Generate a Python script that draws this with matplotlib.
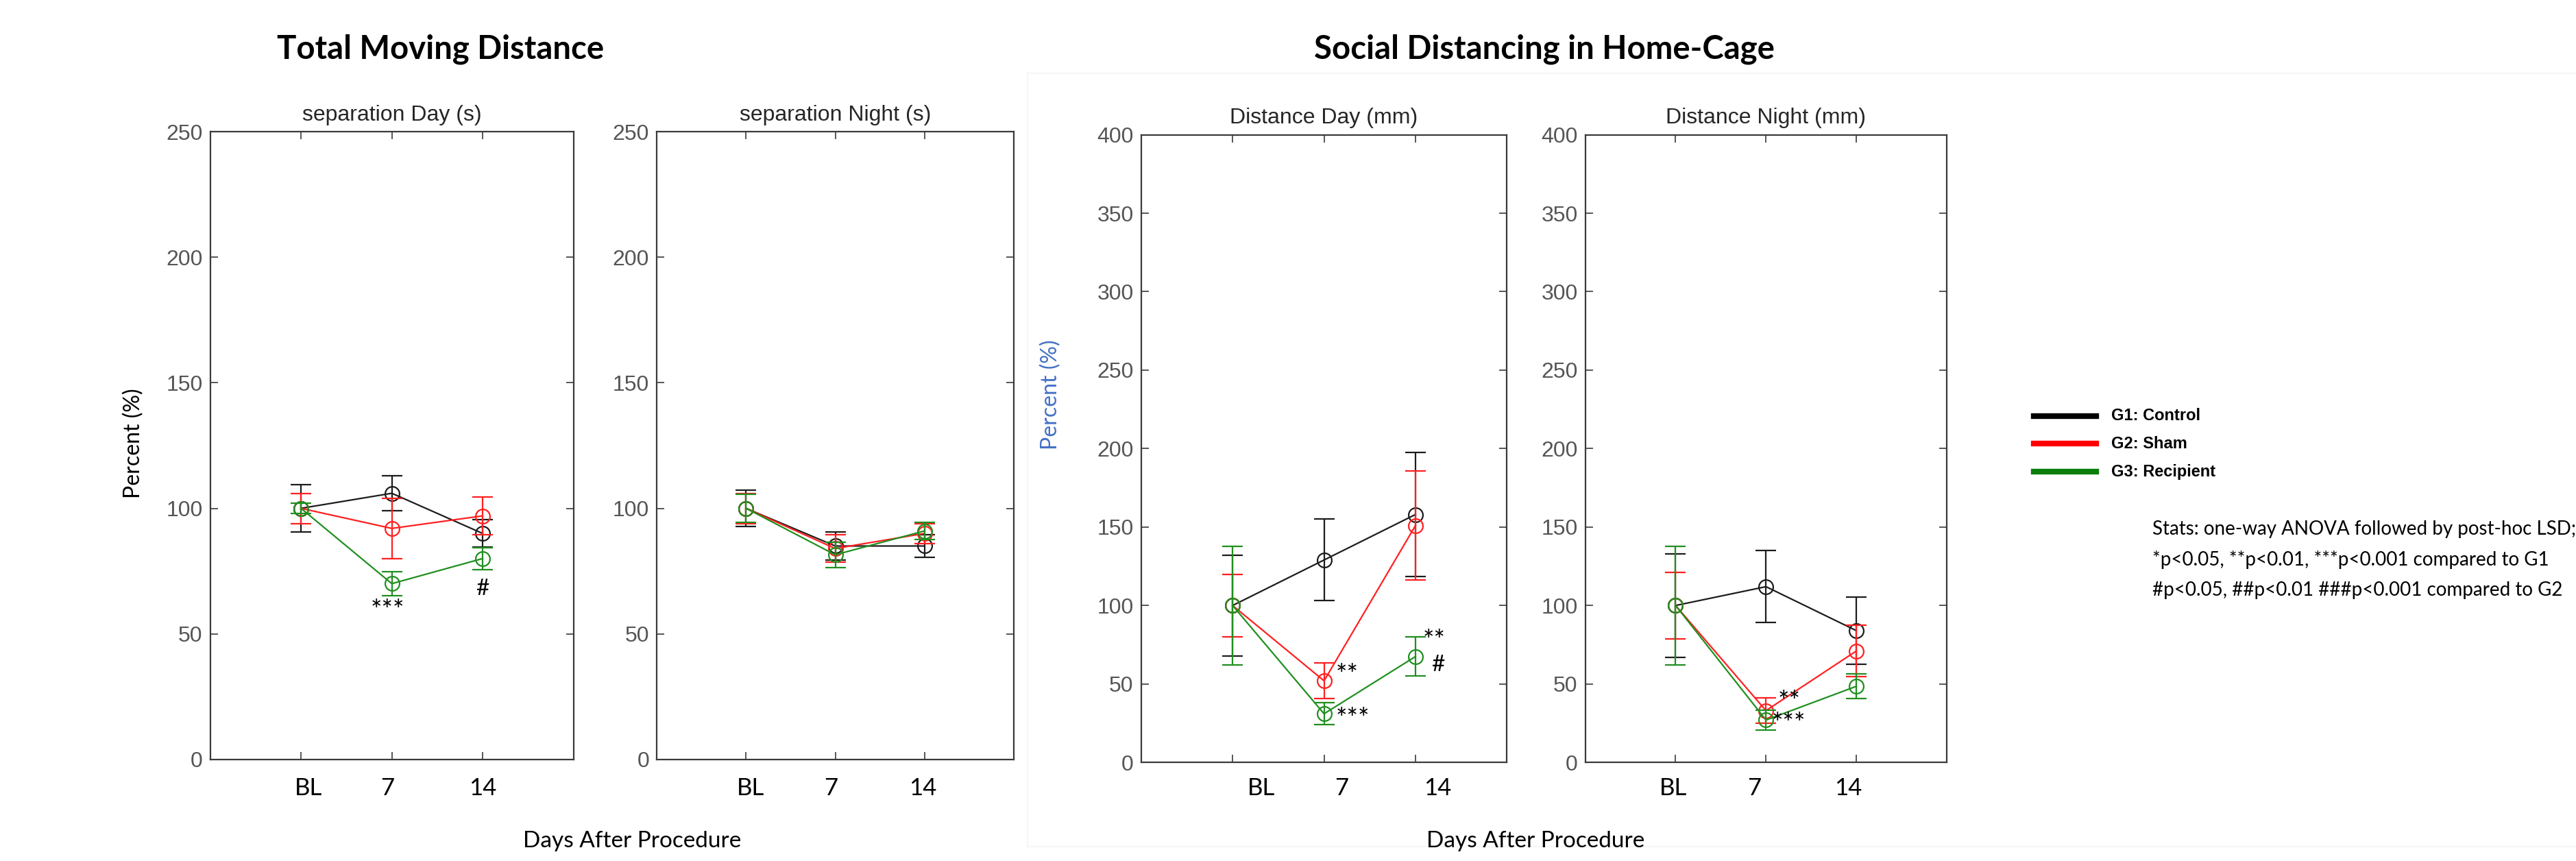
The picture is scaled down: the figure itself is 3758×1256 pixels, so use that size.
import matplotlib
matplotlib.use("Agg")
import matplotlib.pyplot as plt
import matplotlib.transforms as mtransforms

# ---- data -------------------------------------------------------------
days = [1, 2, 3]
day_labels = ["BL", "7", "14"]
groups = ["G1: Control", "G2: Sham", "G3: Recipient"]

# separation Day (s)
sep_day_mean = [[100, 106, 90], [100, 92, 97], [100, 70, 80]]
sep_day_err = [[9.5, 7, 5.5], [6, 12, 7.5], [2, 4.7, 4.3]]
# separation Night (s)
sep_night_mean = [[100, 85, 85], [100, 84, 90], [100, 81.5, 91]]
sep_night_err = [[7.3, 5.5, 4.5], [6, 5.5, 4], [5.5, 5, 3.5]]
# Distance Day (mm)
dist_day_mean = [[100, 129, 158], [100, 52, 151], [100, 31, 67.5]]
dist_day_err = [[32, 26, 39.5], [20, 11.3, 34.7], [37.8, 7, 12.5]]
# Distance Night (mm)
dist_night_mean = [[100, 112, 84], [100, 33, 71], [100, 27, 48.5]]
dist_night_err = [[33, 23, 21.3], [21.2, 8, 16.4], [37.7, 6.5, 8]]

# significance marks: (x, y, text, ha)
sep_day_marks = [(1.95, 59, "***", "center"), (3.0, 68, "#", "center")]
dist_day_marks = [(2.13, 55, "**", "left"), (2.13, 27, "***", "left"),
                  (3.08, 77, "**", "left"), (3.17, 62, "#", "left")]
dist_night_marks = [(2.13, 38, "**", "left"), (2.06, 24, "***", "left")]

# ---- style --------------------------------------------------------------
LINE_C = ["#1c1c1c", "#ff2020", "#1f8f1f"]
LEG_C = ["#000000", "#ff0000", "#0a7d0a"]
AX_C = "#3a3a3a"
TICK_C = "#555555"
MATLAB_FONT = ["Liberation Sans Narrow", "Liberation Sans", "DejaVu Sans"]
OFFICE_FONT = ["Lato", "DejaVu Sans"]

fig = plt.figure(figsize=(37.58, 12.56), dpi=100, facecolor="white")

# very faint border of the pasted right-hand picture
for xs, ys in [([0.399, 0.399], [0.017, 0.915]), ([0.399, 1.0], [0.915, 0.915]),
               ([0.399, 1.0], [0.017, 0.017])]:
    fig.add_artist(plt.Line2D(xs, ys, color="#f6f6f6", lw=1.5,
                              transform=fig.transFigure))

panels = [
    # rect, title, ymax, means, errs, marks, label offsets
    ([0.0816, 0.118, 0.141, 0.729], "separation Day (s)", 250,
     sep_day_mean, sep_day_err, sep_day_marks, [0.08, -0.05, 0.0]),
    ([0.255, 0.118, 0.1385, 0.729], "separation Night (s)", 250,
     sep_night_mean, sep_night_err, [], [0.05, -0.05, -0.02]),
    ([0.443, 0.1145, 0.142, 0.729], "Distance Day (mm)", 400,
     dist_day_mean, dist_day_err, dist_day_marks, [0.31, 0.19, 0.24]),
    ([0.6154, 0.1145, 0.1403, 0.729], "Distance Night (mm)", 400,
     dist_night_mean, dist_night_err, dist_night_marks, [-0.03, -0.13, -0.09]),
]

for rect, title, ymax, means, errs, marks, offs in panels:
    ax = fig.add_axes(rect)
    for g in range(3):
        ax.errorbar(days, means[g], yerr=errs[g], color=LINE_C[g], lw=1.6,
                    marker="o", ms=15, mfc="none", mew=1.6,
                    capsize=11, capthick=1.6, elinewidth=1.6, zorder=3 + g)
    ax.set_xlim(0, 4)
    ax.set_ylim(0, ymax)
    ax.set_xticks(days)
    ax.set_xticklabels([])
    ax.set_yticks(range(0, ymax + 1, 50))
    ax.tick_params(direction="in", length=8, width=1.2, color=AX_C,
                   top=True, right=True, labelsize=23, labelcolor=TICK_C, pad=8)
    for lbl in ax.get_yticklabels():
        lbl.set_family(MATLAB_FONT)
    for sp in ax.spines.values():
        sp.set_color(AX_C)
        sp.set_linewidth(1.6)
    ax.set_title(title, fontsize=23, family=MATLAB_FONT, color="#262626", pad=12)

    tr = mtransforms.blended_transform_factory(ax.transData, fig.transFigure)
    for d, lab, o in zip(days, day_labels, offs):
        ax.text(d + o, 0.084, lab, transform=tr, ha="center", va="center",
                fontsize=25, family=OFFICE_FONT)
    for x, y, s, ha in marks:
        ax.text(x, y, s, ha=ha, va="center", fontsize=24 if s == "#" else 28,
                family=OFFICE_FONT, zorder=10)

# ---- figure texts -------------------------------------------------------------
fig.text(0.171, 0.943, "Total Moving Distance", ha="center", va="center",
         fontsize=34, fontweight="bold", family=OFFICE_FONT)
fig.text(0.5995, 0.943, "Social Distancing in Home-Cage", ha="center", va="center",
         fontsize=34, fontweight="bold", family=OFFICE_FONT)
fig.text(0.052, 0.485, "Percent (%)", rotation=90, ha="center", va="center",
         fontsize=23, family=OFFICE_FONT)
fig.text(0.408, 0.542, "Percent (%)", rotation=90, ha="center", va="center",
         fontsize=23, family=OFFICE_FONT, color="#4472c4")
fig.text(0.2455, 0.023, "Days After Procedure", ha="center", va="center",
         fontsize=24, family=OFFICE_FONT)
fig.text(0.596, 0.023, "Days After Procedure", ha="center", va="center",
         fontsize=24, family=OFFICE_FONT)

# legend drawn by hand
for i, (name, c) in enumerate(zip(groups, LEG_C)):
    y = 0.517 - i * 0.0325
    fig.add_artist(plt.Line2D([0.7895, 0.8138], [y, y], color=c, lw=6,
                              transform=fig.transFigure))
    fig.text(0.8195, y, name, ha="left", va="center", fontsize=17,
             fontweight="bold", family=MATLAB_FONT)

stats = ["Stats: one-way ANOVA followed by post-hoc LSD;",
         "*p<0.05, **p<0.01, ***p<0.001 compared to G1",
         "#p<0.05, ##p<0.01 ###p<0.001 compared to G2"]
for i, line in enumerate(stats):
    fig.text(0.8355, 0.3855 - i * 0.0355, line, ha="left", va="center",
             fontsize=20, family=OFFICE_FONT)

fig.savefig("out.png", dpi=100, facecolor="white")
